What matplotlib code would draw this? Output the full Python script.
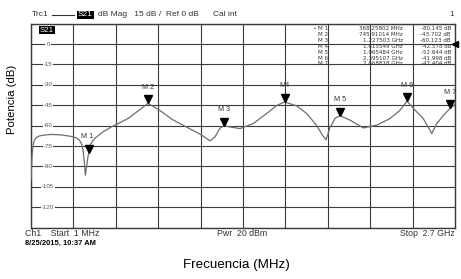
import matplotlib
matplotlib.use('Agg')
import matplotlib.pyplot as plt
from matplotlib.transforms import offset_copy

plt.rcParams['font.family'] = ['Liberation Sans', 'DejaVu Sans']

# trace (frequency in MHz, S21 in dB)
freq_mhz = [1, 4, 8, 14, 22, 33, 50, 70, 100, 130, 190, 250, 290, 311, 325,
            332, 340, 347, 355, 362, 368.26, 380, 406, 459, 512, 544, 618,
            682, 745.91, 820, 900, 990, 1088, 1140, 1172, 1204, 1227.5, 1268,
            1331, 1416, 1501, 1565, 1615.5, 1692, 1756, 1820, 1853, 1879,
            1904, 1936, 1965.5, 2032, 2116, 2202, 2286, 2350, 2395.1, 2446,
            2498, 2552, 2584, 2637, 2668.8, 2700]
s21_db = [-100, -92, -82, -75, -71, -69, -67.8, -67.2, -66.8, -66.5, -66.8,
          -67.8, -69, -71, -74, -78, -86, -96.5, -90, -84, -80.1, -73.5,
          -69.5, -64.6, -61, -59.2, -54.8, -49.3, -43.7, -48.7, -55.5, -61,
          -67, -71.2, -68.3, -62, -60.1, -61, -62.2, -58.5, -51.1, -45.2,
          -42.6, -45.5, -51.1, -60, -66.5, -70.5, -61.5, -54.8, -52.6, -56,
          -61.7, -59.7, -54.8, -48.7, -42, -48.7, -54.8, -65.8, -58.5, -51.1,
          -47.4, -44.5]

marker_names = ['M 1', 'M 2', 'M 3', 'M4', 'M 5', 'M 6', 'M 7']
marker_mhz = [368.25802, 745.91014, 1227.503, 1615.549, 1965.484, 2395.107, 2668.818]
marker_db = [-80.145, -43.702, -60.123, -42.578, -52.644, -41.998, -47.404]
table_names = ['M 1', 'M 2', 'M 3', 'M 4', 'M 5', 'M 6', 'M 7']
table_freq = ['368.25802 MHz', '745.91014 MHz', '1.227503 GHz', '1.615549 GHz',
              '1.965484 GHz', '2.395107 GHz', '2.668818 GHz']

y_ticks = [0, -15, -30, -45, -60, -75, -90, -105, -120]
start_mhz, stop_mhz = 1, 2700
top_db, bottom_db = 15, -135
ref_db = 0

W, H = 461, 279
fig = plt.figure(figsize=(W / 100, H / 100), dpi=100)
fig.patch.set_facecolor('white')
txt = '#333333'


def fx(px):
    return px / W


def fy(py):
    return 1 - py / H


ax = fig.add_axes([fx(31), fy(227.6), fx(424), 204 / H])
ax.set_xlim(start_mhz, stop_mhz)
ax.set_ylim(bottom_db, top_db)
ax.set_xticks([start_mhz + i * (stop_mhz - start_mhz) / 10 for i in range(11)])
ax.set_yticks([top_db - 15 * i for i in range(11)])
ax.tick_params(length=0, labelbottom=False, labelleft=False)
ax.grid(True, color='#3a3a3a', lw=0.8)
for s in ax.spines.values():
    s.set_color('#3a3a3a')
    s.set_linewidth(1.0)

# scale labels drawn inside the grid
for v in y_ticks:
    ax.text(0.04, v, str(v), transform=ax.get_yaxis_transform(), fontsize=4.4,
            color='#555555', ha='center', va='center',
            bbox=dict(facecolor='white', edgecolor='none', pad=0.6))

ax.plot(freq_mhz, s21_db, color='#6e6e6e', lw=0.9, zorder=3)

# markers: tip of the triangle sits on the value
tri = offset_copy(ax.transData, fig=fig, y=2.9, units='points')
ax.plot(marker_mhz, marker_db, 'v', color='black', ms=5.6, transform=tri,
        zorder=4, clip_on=False)
for name, f, v in zip(marker_names, marker_mhz, marker_db):
    ax.annotate(name, (f, v), xytext=(-1 if name == 'M 1' else 0, 9),
                textcoords='offset points', fontsize=5.2, color=txt,
                ha='center', va='bottom', zorder=5)

# reference level arrow at the right edge
ax.plot([stop_mhz], [ref_db], '<', color='black', ms=4.5, clip_on=False, zorder=5)

# marker table
tf = ['DejaVu Sans']
for i, (n, fr, v) in enumerate(zip(table_names, table_freq, marker_db)):
    yy = fy(28.5 + i * 5.9)
    if i == 0:
        fig.text(fx(315), yy, '•', fontsize=3.8, ha='center', va='center', color=txt)
    fig.text(fx(318), yy, n, fontsize=4.1, ha='left', va='center', color=txt, family=tf)
    fig.text(fx(403), yy, fr, fontsize=4.1, ha='right', va='center', color=txt, family=tf)
    fig.text(fx(451), yy, '%.3f dB' % v, fontsize=4.1, ha='right', va='center',
             color=txt, family=tf)

# header line
fig.text(fx(32), fy(15), 'Trc1', fontsize=6, ha='left', va='center', color=txt)
fig.add_artist(plt.Line2D([fx(52), fx(74)], [fy(15), fy(15)], color=txt, lw=0.8))
fig.text(fx(78), fy(15), 'S21', fontsize=6, ha='left', va='center', color='white',
         bbox=dict(facecolor='black', edgecolor='none', pad=0.6))
fig.text(fx(98), fy(15), 'dB Mag   15 dB /  Ref 0 dB', fontsize=6, ha='left',
         va='center', color=txt)
fig.text(fx(213), fy(15), 'Cal int', fontsize=6, ha='left', va='center', color=txt)
fig.text(fx(452), fy(15), '1', fontsize=6, ha='center', va='center', color=txt)
fig.text(fx(40), fy(30), 'S21', fontsize=5.6, ha='left', va='center', color='white',
         bbox=dict(facecolor='black', edgecolor='none', pad=0.6))

# footer
fig.text(fx(25), fy(234), 'Ch1    Start  1 MHz', fontsize=6.3, ha='left', va='center', color=txt)
fig.text(fx(217), fy(234), 'Pwr  20 dBm', fontsize=6.3, ha='left', va='center', color=txt)
fig.text(fx(455), fy(234), 'Stop  2.7 GHz', fontsize=6.3, ha='right', va='center', color=txt)
fig.text(fx(25), fy(243), '8/25/2015, 10:37 AM', fontsize=5.4, ha='left', va='center',
         color='black', fontweight='bold')

fig.text(fx(236), fy(265), 'Frecuencia (MHz)', fontsize=9.6, ha='center', va='center')
fig.text(fx(12), fy(99), 'Potencia (dB)', fontsize=8.2, ha='center', va='center',
         rotation=90, family=['Liberation Sans Narrow', 'Liberation Sans'])

fig.savefig('out.png', dpi=100)
